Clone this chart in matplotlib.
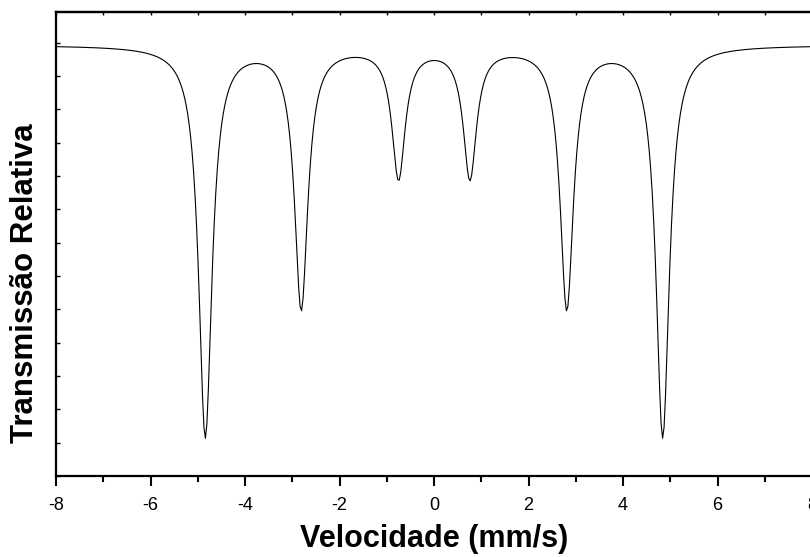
import numpy as np
import matplotlib
matplotlib.use("Agg")
import matplotlib.pyplot as plt

# Sextet line parameters (velocity, depth, half-width)
line_positions = [-4.84, -2.81, -0.75, 0.76, 2.81, 4.84]
line_depths = [0.391, 0.262, 0.131, 0.131, 0.262, 0.391]
line_hwhm = [0.17, 0.17, 0.17, 0.17, 0.17, 0.17]
baseline = 1.0
x_ticks = [-8, -6, -4, -2, 0, 2, 4, 6, 8]
x_tick_labels = ["-8", "-6", "-4", "-2", "0", "2", "4", "6", "8"]

v = np.linspace(-8, 8, 512)
T = np.full_like(v, baseline)
for p, a, g in zip(line_positions, line_depths, line_hwhm):
    T -= a * g**2 / ((v - p)**2 + g**2)

plt.rcParams['font.family'] = ['Liberation Sans', 'DejaVu Sans']

fig = plt.figure(figsize=(8.10, 5.57), dpi=100)
ax = fig.add_axes([56/810, 1 - 476/557, (812 - 56)/810, (476 - 12)/557])
ax.plot(v, T, color='black', lw=0.8)

px = 0.001
ax.set_xlim(-8, 8)
ax.set_ylim(baseline - 431*px, baseline + 33*px)

ax.set_xticks(x_ticks)
ax.set_xticklabels(x_tick_labels)
ax.set_xticks(np.arange(-7, 8, 2), minor=True)
ax.tick_params(axis='x', which='major', direction='out', length=7, width=1.5,
               labelsize=13, pad=8, top=False)
ax.tick_params(axis='x', which='minor', direction='out', length=4, width=1.5, top=False)
yt = baseline - 431*px + np.arange(0, 14) * 33.33*px
ax.set_yticks(yt)
ax.set_yticklabels([])
ax.tick_params(axis='y', which='both', direction='in', length=3, width=1, left=True)

# small inward ticks along the top edge
sec = ax.secondary_xaxis('top')
sec.set_xticks(np.arange(-8, 9, 1))
sec.set_xticklabels([])
sec.tick_params(direction='in', length=2, width=1)

for s in ax.spines.values():
    s.set_linewidth(1.6)
sec.spines['top'].set_linewidth(1.6)

fig.text(434/810, 1 - 539/557, "Velocidade (mm/s)", ha='center', va='center',
         fontsize=22, fontweight='bold')
fig.text(25/810, 1 - 283/557, "Transmissão Relativa", ha='center', va='center',
         rotation=90, fontsize=22.5, fontweight='bold')

fig.savefig("out.png", dpi=100)
